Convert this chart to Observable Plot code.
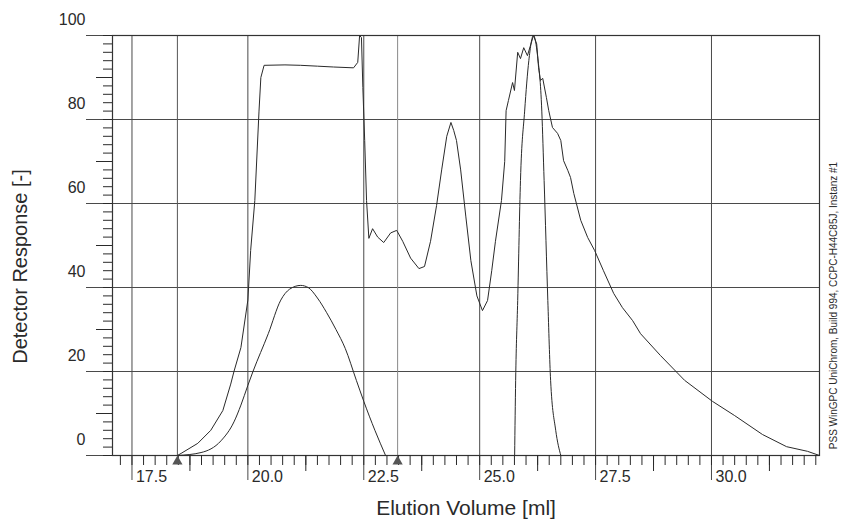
<!DOCTYPE html>
<html>
<head>
<meta charset="utf-8">
<script src="https://cdn.jsdelivr.net/npm/d3@7"></script>
<script src="https://cdn.jsdelivr.net/npm/@observablehq/plot@0.6"></script>
<style>
  html, body { margin: 0; padding: 0; background: #fff; }
  #chart svg { display: block; }
</style>
</head>
<body>
<div id="chart"></div>
<script>
// ---- data ----
const xDomain = [17.08, 32.33];
const yDomain = [0, 100];

const xMajorTicks = [17.5, 20.0, 22.5, 25.0, 27.5, 30.0];
const xMediumTicks = [18.75, 21.25, 23.75, 26.25, 28.75, 31.25];
const yMajorTicks = [0, 20, 40, 60, 80, 100];
const yMediumTicks = [10, 30, 50, 70, 90];
const markerVolumes = [18.48, 23.23];

// main detector trace (with plateau)
const mainVol = [18.48, 18.56, 18.92, 19.20, 19.46, 19.63, 19.70, 19.85, 20.00, 20.06, 20.15, 20.24, 20.28, 20.35,
  20.80, 21.14, 21.50, 21.85, 22.28, 22.37, 22.41, 22.45, 22.48, 22.52, 22.56, 22.61, 22.69, 22.80, 22.93, 23.08,
  23.21, 23.34, 23.51, 23.69, 23.81, 23.94, 24.07, 24.18, 24.29, 24.38, 24.44, 24.50, 24.59, 24.70, 24.81, 24.94,
  25.06, 25.17, 25.26, 25.34, 25.47, 25.54, 25.57, 25.62, 25.71, 25.75, 25.82, 25.88, 25.95, 26.03, 26.16, 26.23,
  26.27, 26.31, 26.36, 26.44, 26.49, 26.57, 26.68, 26.75, 26.81, 26.90, 26.96, 27.03, 27.18, 27.33, 27.48, 27.67,
  27.89, 28.08, 28.30, 28.47, 28.90, 29.42, 30.02, 30.50, 31.10, 31.62, 32.07, 32.33];
const mainResp = [0, 0.5, 2.9, 6.0, 10.7, 17, 20, 25.7, 37, 48.8, 60.7, 82, 90, 92.9,
  93.0, 92.9, 92.7, 92.5, 92.3, 93.6, 100, 99.5, 87.6, 75, 60.7, 51.7, 54, 52, 50.7, 53,
  53.6, 51, 47, 44.5, 45, 51, 59.5, 68, 76, 79.3, 77.4, 75, 68, 57, 46.4, 38,
  34.5, 36.9, 44, 51, 60.7, 70, 82.1, 84.5, 88.8, 86.9, 96, 94.5, 97.1, 95.2, 100, 98,
  92.4, 89.3, 89.8, 85.2, 82.1, 78.1, 76.7, 75, 70.2, 67.9, 66.2, 62.4, 56, 51.9, 48.8, 44,
  38.6, 35.2, 32.1, 29, 23.8, 17.9, 12.9, 9.5, 5, 2.1, 1, 0];

// broad smooth peak
const peakAVol = [18.48, 18.99, 19.42, 19.70, 19.85, 20.00, 20.11, 20.44, 20.71, 20.90, 21.14, 21.30, 21.50, 21.70, 21.90, 22.10, 22.34, 22.50, 22.74, 22.97];
const peakAResp = [0, 0.7, 3.5, 8, 12, 16.7, 20, 29, 37, 39.6, 40.5, 40, 37.5, 34, 30, 25.5, 17.9, 12.9, 6, 0];

// narrow peak
const peakBVol = [25.754, 25.776, 25.82, 25.88, 25.97, 26.06, 26.16, 26.25, 26.34, 26.39, 26.47, 26.53, 26.64, 26.75];
const peakBResp = [0, 17.9, 36.9, 65.5, 82, 94, 100, 95, 82, 65.5, 36.9, 17.9, 6, 0];

const xMinorTicks = d3.range(17.25, 32.3, 0.25);
const yMinorTicks = d3.range(0, 100.1, 2);

const yTitle = "Detector Response [-]";
const xTitle = "Elution Volume [ml]";
const sideNote = "PSS WinGPC UniChrom, Build 994, CCPC-H44C85J, Instanz #1";

const ink = "#2a2a2a";
const gridInk = "#4a4a4a";

const chart = Plot.plot({
  width: 843,
  height: 527,
  marginLeft: 112,
  marginRight: 24,
  marginTop: 35,
  marginBottom: 72,
  x: {domain: xDomain},
  y: {domain: yDomain},
  style: {fontFamily: "'Liberation Sans', Arial, sans-serif", fontSize: "16px", color: ink, background: "#fff"},
  marks: [
    Plot.gridY(yMajorTicks, {stroke: gridInk, strokeOpacity: 1, strokeWidth: 1}),
    Plot.gridX(xMajorTicks, {stroke: gridInk, strokeOpacity: 1, strokeWidth: 1}),
    Plot.ruleX(markerVolumes, {x: d => d, stroke: (d, i) => i === 0 ? "#555" : "#8a8a8a", strokeWidth: 1}),
    Plot.frame({stroke: "#333", strokeWidth: 1.2}),
    // y ticks
    Plot.axisY(yMajorTicks, {tickSize: 26, tickFormat: () => "", label: null, stroke: gridInk}),
    Plot.axisY(yMediumTicks, {tickSize: 16, tickFormat: () => "", label: null, stroke: ink}),
    Plot.axisY(yMinorTicks, {tickSize: 9, tickFormat: () => "", label: null, stroke: ink}),
    // x ticks
    Plot.axisX(xMajorTicks, {tickSize: 25, tickFormat: () => "", label: null, stroke: gridInk}),
    Plot.axisX(xMediumTicks, {tickSize: 16, tickFormat: () => "", label: null, stroke: ink}),
    Plot.axisX(xMinorTicks, {tickSize: 10, tickFormat: () => "", label: null, stroke: ink}),
    // tick labels
    Plot.text(yMajorTicks, {y: d => d, text: d => String(d), frameAnchor: "left", textAnchor: "end", dx: -27, dy: -15.5, fontSize: 16, fill: ink}),
    Plot.text(xMajorTicks, {x: d => d, text: d => d.toFixed(1), frameAnchor: "bottom", textAnchor: "start", dx: 4, dy: 26, fontSize: 16, fill: ink}),
    // curves
    Plot.line(mainResp, {x: mainVol, y: mainResp, stroke: ink, strokeWidth: 1}),
    Plot.line(peakAResp, {x: peakAVol, y: peakAResp, stroke: ink, strokeWidth: 1, curve: "monotone-x"}),
    Plot.line(peakBResp, {x: peakBVol, y: peakBResp, stroke: ink, strokeWidth: 1, curve: "monotone-x"}),
    // markers
    Plot.dot(markerVolumes, {x: d => d, frameAnchor: "bottom", dy: 6, symbol: "triangle", r: 3.8, fill: "#555", stroke: "none"}),
    // titles
    Plot.text([yTitle], {frameAnchor: "left", textAnchor: "middle", lineAnchor: "middle", rotate: -90, dx: -92, dy: 21, fontSize: 20, fill: ink}),
    Plot.text([xTitle], {frameAnchor: "bottom", textAnchor: "middle", lineAnchor: "middle", dy: 53, fontSize: 21, fill: ink}),
    Plot.text([sideNote], {frameAnchor: "right", textAnchor: "middle", lineAnchor: "middle", rotate: -90, dx: 14, dy: 60, fontSize: 10, fill: ink})
  ]
});
document.getElementById("chart").appendChild(chart);
</script>
</body>
</html>
